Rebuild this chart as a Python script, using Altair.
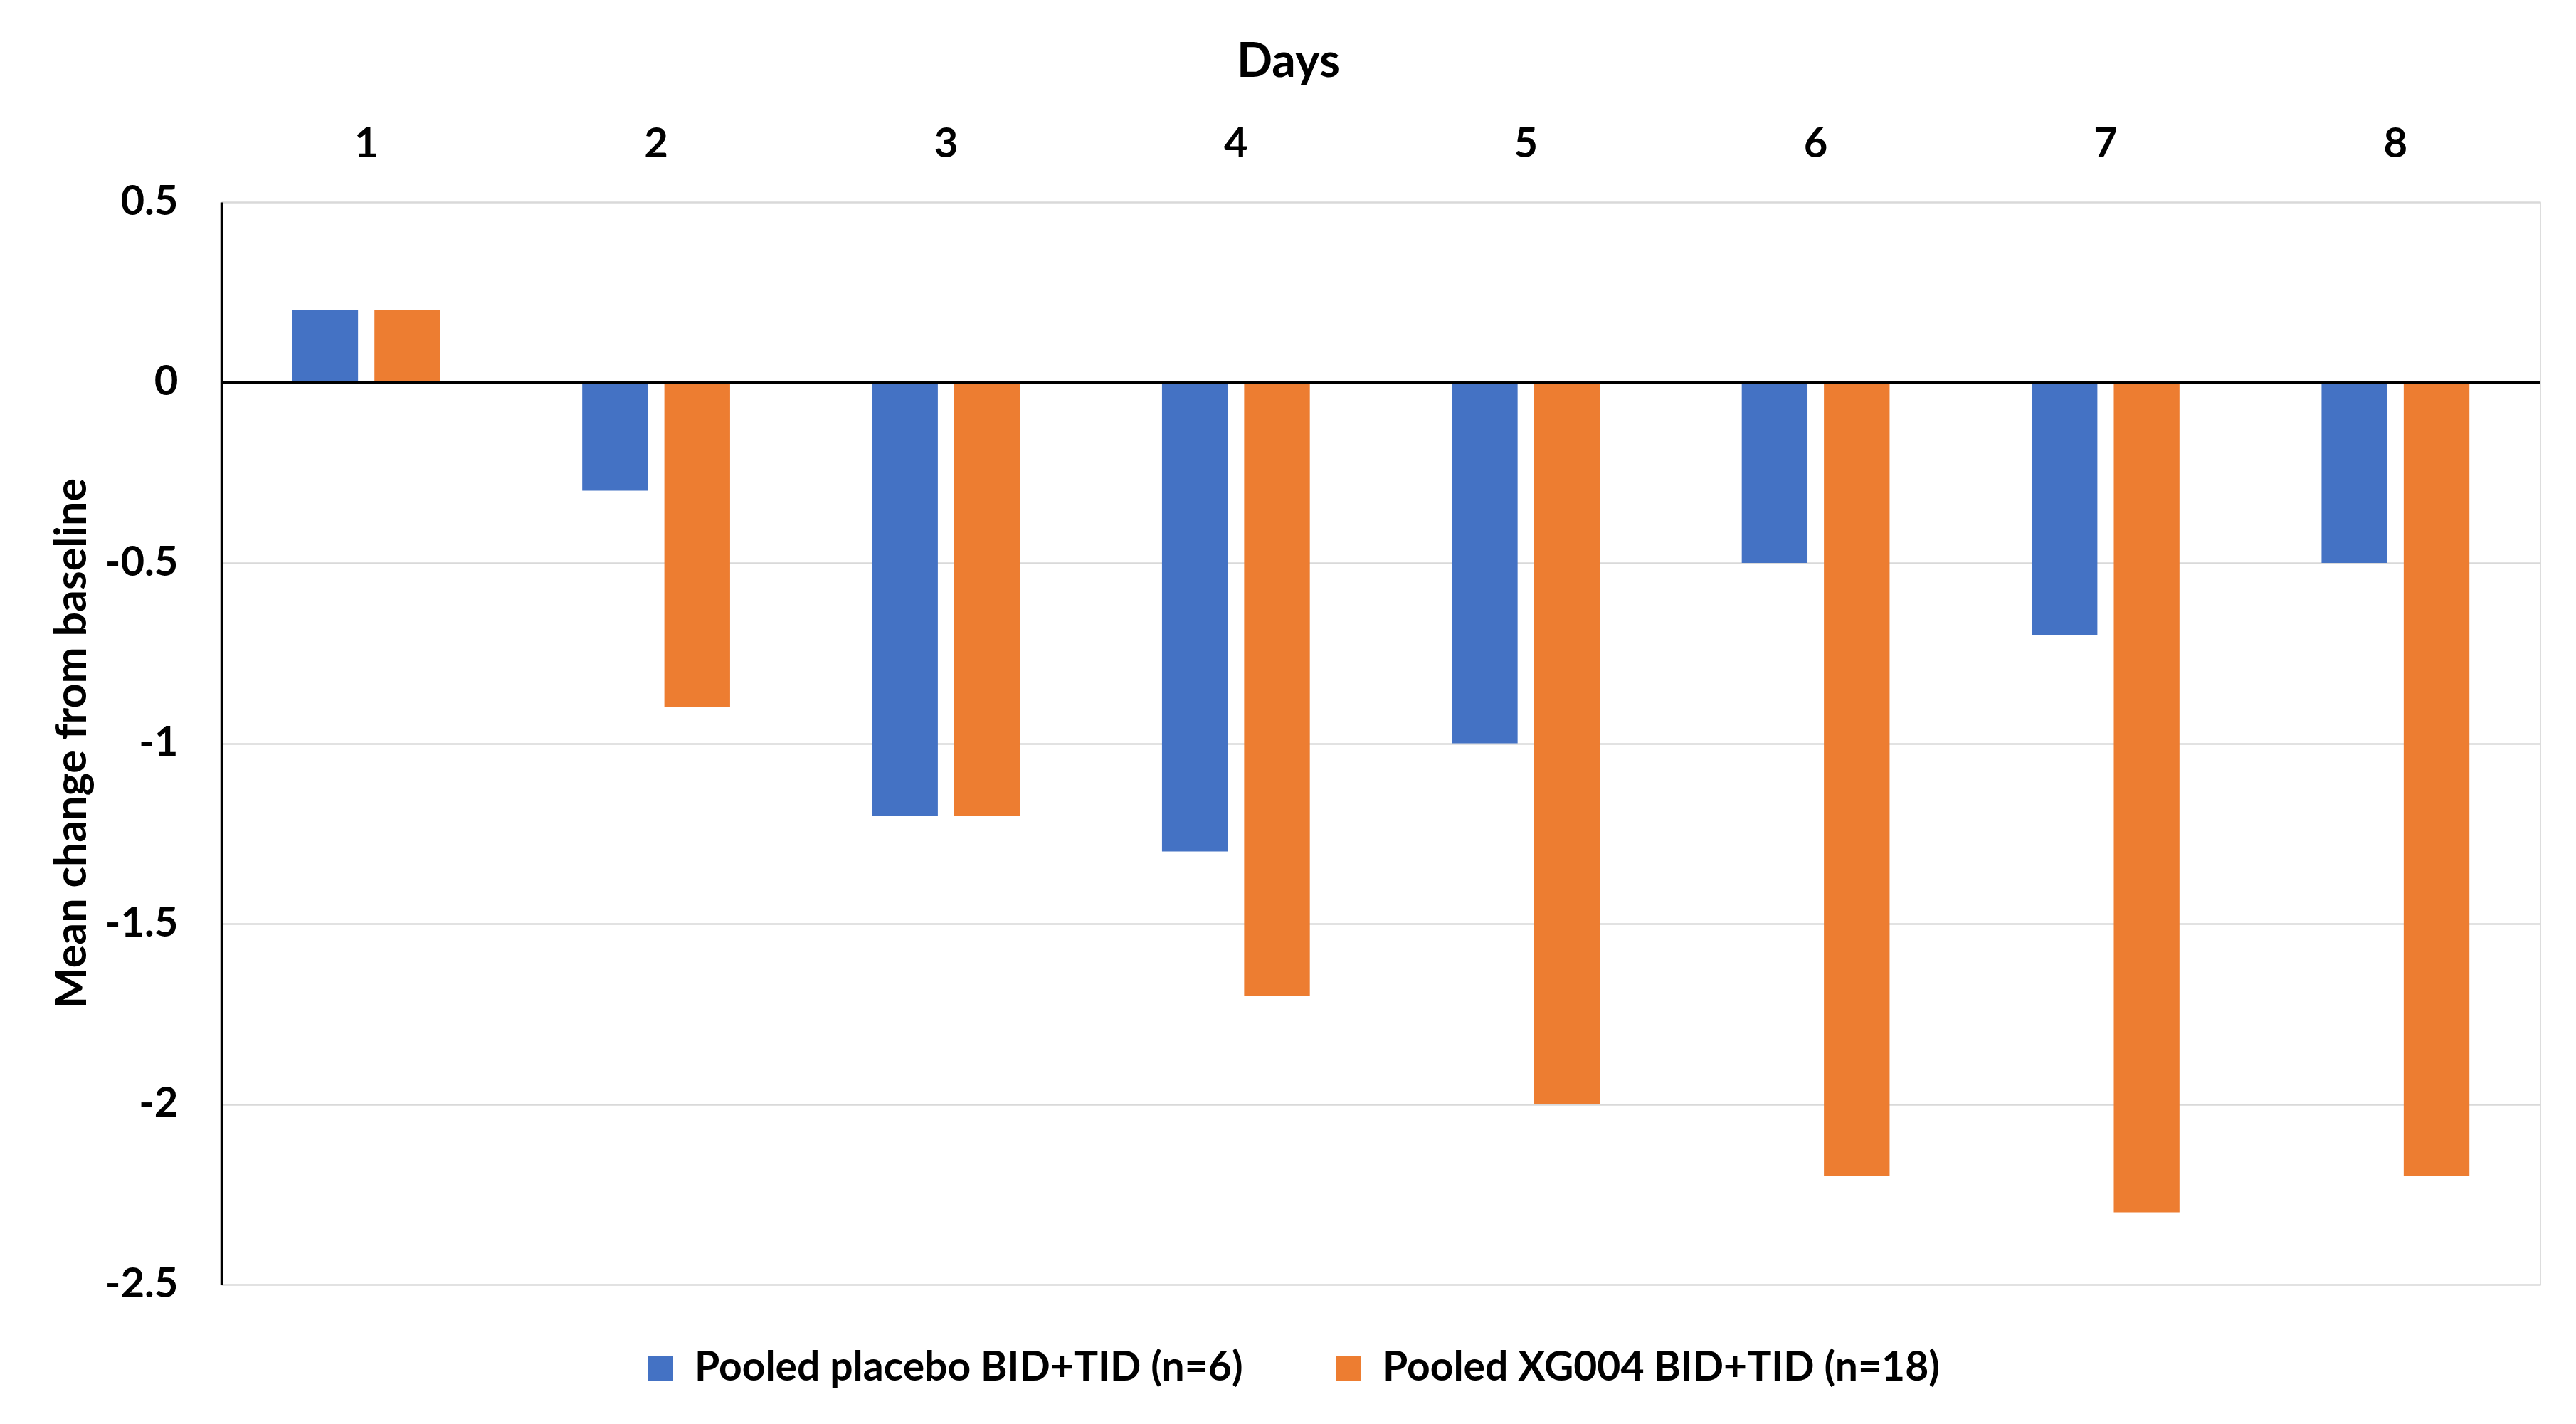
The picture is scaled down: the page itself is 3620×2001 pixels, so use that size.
import altair as alt
import pandas as pd

days = ["1", "2", "3", "4", "5", "6", "7", "8"]
series_names = ["Pooled placebo BID+TID (n=6)", "Pooled XG004 BID+TID (n=18)"]
placebo = [0.2, -0.3, -1.2, -1.3, -1.0, -0.5, -0.7, -0.5]
xg004 = [0.2, -0.9, -1.2, -1.7, -2.0, -2.2, -2.3, -2.2]
y_ticks = [0.5, 0, -0.5, -1, -1.5, -2, -2.5]
colors = ["#4472C4", "#ED7D31"]

rows = []
for d, p, x in zip(days, placebo, xg004):
    rows.append({"Day": d, "Series": series_names[0], "Value": p})
    rows.append({"Day": d, "Series": series_names[1], "Value": x})
df = pd.DataFrame(rows)

FONT = "Lato"

bars = alt.Chart(df).mark_bar().encode(
    x=alt.X("Day:N", sort=days,
            scale=alt.Scale(paddingInner=0.49, paddingOuter=0.245),
            axis=alt.Axis(orient="top", title="Days", labelAngle=0,
                          labelFont=FONT, labelFontSize=58, labelFontWeight="bold",
                          labelColor="black", labelBaseline="alphabetic",
                          labelPadding=64, ticks=False, tickSize=0, domain=False, grid=False,
                          titleFont=FONT, titleFontSize=66, titleFontWeight="bold",
                          titleColor="black", titleBaseline="alphabetic",
                          titleAnchor="middle", titleX=1499, titleY=-177)),
    xOffset=alt.XOffset("Series:N", sort=series_names,
                        scale=alt.Scale(paddingInner=0.2, paddingOuter=0)),
    y=alt.Y("Value:Q",
            scale=alt.Scale(domain=[-2.5, 0.5], nice=False, zero=False),
            axis=alt.Axis(values=y_ticks, title="Mean change from baseline",
                          labelExpr="datum.value < 0 ? '-' + format(-datum.value, '') : format(datum.value, '')",
                          labelFont=FONT, labelFontSize=58, labelFontWeight="bold",
                          labelColor="black", labelPadding=61, ticks=False, tickSize=0,
                          domain=True, domainColor="black", domainWidth=3.5,
                          grid=True, gridColor="#D9D9D9", gridWidth=2.5,
                          titleFont=FONT, titleFontSize=61, titleFontWeight="bold",
                          titleColor="black", titleAngle=-90, titleBaseline="alphabetic",
                          titleAlign="center", titleX=-191, titleY=760)),
    color=alt.Color("Series:N", sort=series_names,
                    scale=alt.Scale(domain=series_names, range=colors),
                    legend=alt.Legend(title=None, orient="none", direction="horizontal",
                                      legendX=589, legendY=1610,
                                      symbolType="square", symbolSize=1225,
                                      symbolStrokeWidth=0, labelOffset=19,
                                      columnPadding=120,
                                      labelFont=FONT, labelFontSize=57,
                                      labelFontWeight="bold", labelColor="black",
                                      labelLimit=2000)),
)

zero = alt.Chart(pd.DataFrame({"v": [0]})).mark_rule(color="black", strokeWidth=4.5).encode(
    y=alt.Y("v:Q")
)

chart = alt.layer(bars, zero).properties(
    width=3259, height=1521,
    autosize=alt.AutoSizeParams(type="none"),
    padding={"left": 303, "top": 276, "right": 40, "bottom": 178},
).configure_view(stroke=None).configure(background="white")

chart.save("out.html", embed_options={"renderer": "svg", "actions": False})
